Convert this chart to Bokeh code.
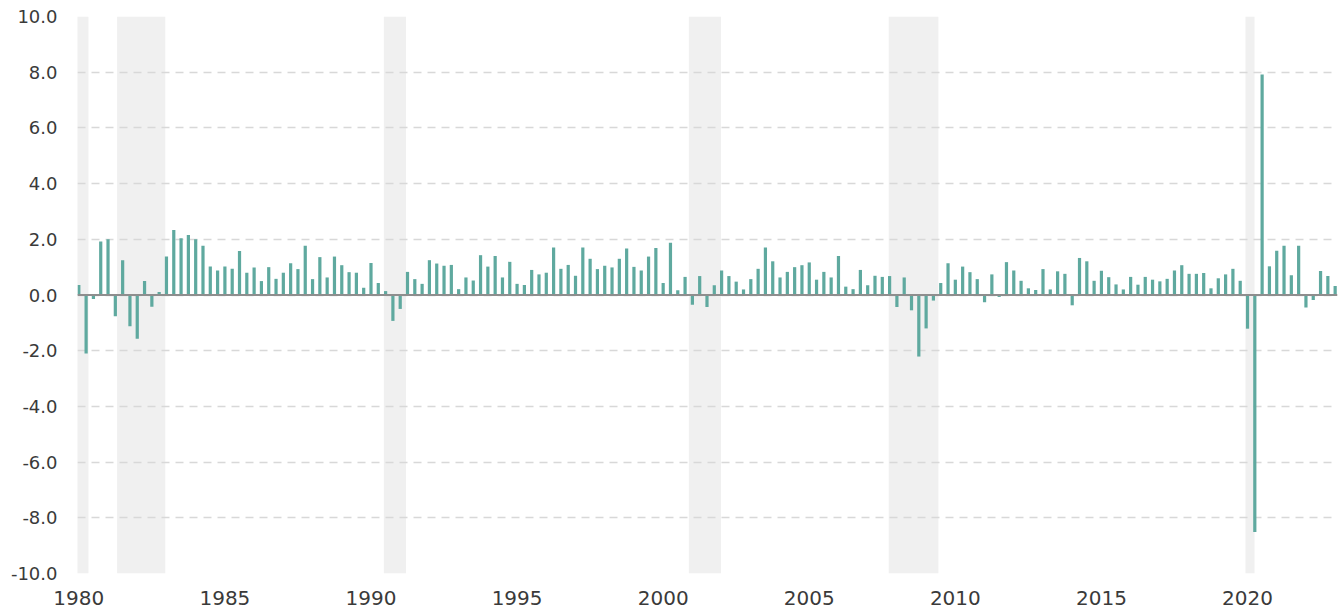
from bokeh.plotting import figure
from bokeh.models import Range1d, FixedTicker, NumeralTickFormatter, Span, ColumnDataSource
from bokeh.embed import file_html
from bokeh.resources import INLINE

# Quarterly real GDP growth (%, q/q), 1980Q1 .. 2023Q1
start_year = 1980
growth = [
    0.36, -2.10, -0.14, 1.92,   # 1980
    2.00, -0.76, 1.25, -1.12,   # 1981
    -1.57, 0.50, -0.42, 0.11,   # 1982
    1.38, 2.33, 2.04, 2.15,     # 1983
    2.00, 1.77, 1.02, 0.88,     # 1984
    1.02, 0.94, 1.58, 0.80,     # 1985
    0.99, 0.50, 1.00, 0.58,     # 1986
    0.80, 1.14, 0.93, 1.77,     # 1987
    0.57, 1.36, 0.63, 1.38,     # 1988
    1.07, 0.82, 0.80, 0.26,     # 1989
    1.15, 0.43, 0.14, -0.93,    # 1990
    -0.50, 0.83, 0.57, 0.40,    # 1991
    1.25, 1.13, 1.05, 1.08,     # 1992
    0.21, 0.63, 0.52, 1.43,     # 1993
    1.02, 1.40, 0.63, 1.19,     # 1994
    0.40, 0.36, 0.90, 0.74,     # 1995
    0.80, 1.71, 0.94, 1.08,     # 1996
    0.69, 1.71, 1.30, 0.93,     # 1997
    1.05, 0.99, 1.30, 1.67,     # 1998
    1.01, 0.88, 1.38, 1.69,     # 1999
    0.43, 1.88, 0.17, 0.65,     # 2000
    -0.35, 0.68, -0.43, 0.35,   # 2001
    0.88, 0.68, 0.48, 0.20,     # 2002
    0.57, 0.94, 1.71, 1.21,     # 2003
    0.63, 0.83, 1.00, 1.07,     # 2004
    1.17, 0.55, 0.83, 0.63,     # 2005
    1.40, 0.30, 0.21, 0.90,     # 2006
    0.35, 0.69, 0.65, 0.68,     # 2007
    -0.43, 0.63, -0.55, -2.21,  # 2008
    -1.20, -0.20, 0.43, 1.14,   # 2009
    0.55, 1.02, 0.82, 0.57,     # 2010
    -0.26, 0.74, -0.07, 1.18,   # 2011
    0.88, 0.51, 0.24, 0.18,     # 2012
    0.93, 0.20, 0.85, 0.76,     # 2013
    -0.37, 1.33, 1.21, 0.51,    # 2014
    0.87, 0.64, 0.38, 0.20,     # 2015
    0.65, 0.37, 0.65, 0.55,     # 2016
    0.49, 0.58, 0.88, 1.07,     # 2017
    0.76, 0.76, 0.79, 0.24,     # 2018
    0.60, 0.74, 0.94, 0.51,     # 2019
    -1.21, -8.51, 7.92, 1.03,   # 2020
    1.59, 1.77, 0.71, 1.77,     # 2021
    -0.45, -0.18, 0.86, 0.68,   # 2022
    0.32,                       # 2023
]
quarters = [start_year + i / 4 for i in range(len(growth))]

# Recession periods (fractional years)
recession_start = [1979.90, 1981.31, 1990.44, 2000.88, 2007.72, 2019.93]
recession_end = [1980.33, 1982.96, 1991.20, 2001.98, 2009.42, 2020.24]

year_ticks = [1980, 1985, 1990, 1995, 2000, 2005, 2010, 2015, 2020]
value_ticks = [-10, -8, -6, -4, -2, 0, 2, 4, 6, 8, 10]

p = figure(width=1340, height=608, output_backend="svg", toolbar_location=None,
           x_range=Range1d(1979.955, 2023.08), y_range=Range1d(-10, 10),
           min_border_left=77, min_border_right=3, min_border_top=16, min_border_bottom=35)
p.outline_line_color = None
p.background_fill_color = "white"

rec = ColumnDataSource(dict(left=recession_start, right=recession_end,
                            top=[10] * len(recession_start), bottom=[-10] * len(recession_start)))
p.quad(left="left", right="right", top="top", bottom="bottom", source=rec,
       fill_color="#f0f0f0", line_color=None, level="image")

src = ColumnDataSource(dict(x=quarters, top=growth))
p.vbar(x="x", top="top", bottom=0, width=0.11, source=src,
       fill_color="#5fa99f", line_color=None)

p.add_layout(Span(location=0, dimension="width", line_color="#8e8e8e", line_width=2, level="overlay"))

p.xgrid.grid_line_color = None
p.ygrid.grid_line_color = "#d8d8d8"
p.ygrid.grid_line_width = 1.5
p.ygrid.grid_line_dash = "8 6"
p.ygrid.ticker = FixedTicker(ticks=value_ticks)

font = "DejaVu Sans"
p.xaxis.ticker = FixedTicker(ticks=year_ticks)
p.yaxis.ticker = FixedTicker(ticks=value_ticks)
p.yaxis.formatter = NumeralTickFormatter(format="0.0")
for ax in (p.xaxis[0], p.yaxis[0]):
    ax.axis_line_color = None
    ax.major_tick_line_color = None
    ax.minor_tick_line_color = None
    ax.major_tick_out = 0
    ax.major_tick_in = 0
    ax.minor_tick_out = 0
    ax.major_label_text_font = font
    ax.major_label_text_color = "#3a3a3a"
p.yaxis.major_label_text_font_size = "18px"
p.xaxis.major_label_text_font_size = "20px"
p.yaxis.major_label_standoff = 20
p.xaxis.major_label_standoff = 17

open("out.html", "w").write(file_html(p, INLINE))
